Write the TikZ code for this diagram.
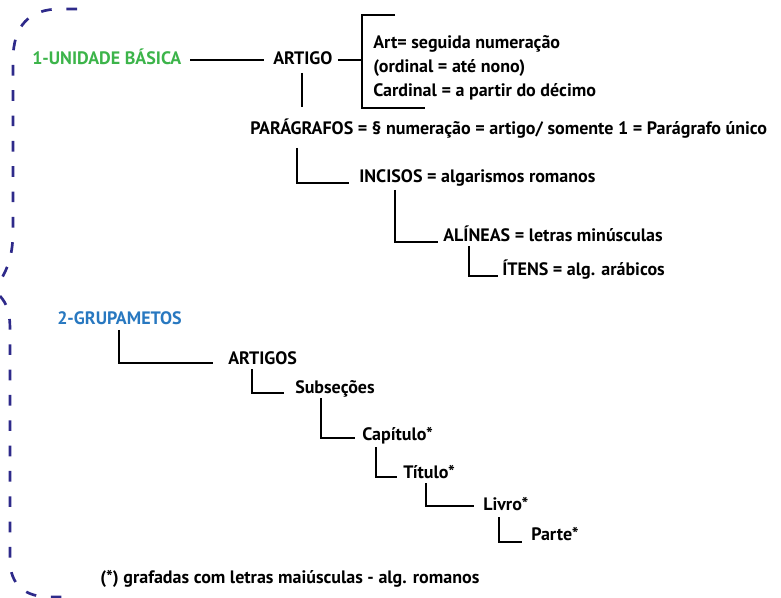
\documentclass[tikz,border=0pt]{standalone}
\usepackage{fontspec}
\setmainfont{PT Sans}
\usetikzlibrary{calc}
\definecolor{verde}{RGB}{60,180,74}
\definecolor{azul}{RGB}{40,120,192}
\definecolor{anil}{RGB}{46,42,138}
\tikzset{
rotulo/.style={anchor=base west, inner sep=0pt, font=\bfseries\fontsize{13.5}{15}\selectfont},
liga/.style={line width=1.8pt},
chave/.style={draw=anil, line width=2pt, dash pattern=on 8pt off 11pt},
}

\begin{document}
\begin{tikzpicture}[x=0.75pt,y=-0.75pt]
\useasboundingbox (0,0) rectangle (781,598);
% chaves tracejadas
\draw[chave] (77,9) -- (60,9) .. controls (30,9) and (13,25) .. (13,60) -- (13,230) .. controls (13,255) and (8,268) .. (0,281);
\draw[chave] (0,296) .. controls (7,304) and (10,312) .. (10,330) -- (10,560) .. controls (10,585) and (25,597) .. (50,597) -- (62,597);

% 1 - unidade basica
\node[rotulo, verde] (ub) at (32,65) {1-UNIDADE BÁSICA};
\node[rotulo] (art) at (273,65) {ARTIGO};
\node[rotulo] (n1) at (373,49) {Art= seguida numeração};
\node[rotulo] (n2) at (373,73) {(ordinal = até nono)};
\node[rotulo] (n3) at (373,97) {Cardinal = a partir do décimo};
\node[rotulo] (par) at (250,135) {PARÁGRAFOS = § numeração = artigo/ somente 1 = Parágrafo único};
\node[rotulo] (inc) at (359,183) {INCISOS = algarismos romanos};
\node[rotulo] (ali) at (443,242) {ALÍNEAS = letras minúsculas};
\node[rotulo] (ite) at (502,276) {ÍTENS = alg. arábicos};

\draw[liga] ($(ub.base east)+(9,-5)$) -- ($(art.base west)+(-9,-5)$);
\draw[liga] ($(art.base east)+(5,-5)$) -- ($(n1.base west)+(-11,11)$);
\draw[liga] ($(n1.base west)+(22,-34)$) -| ($(n3.base west)+(-11,11)$) -- ($(n3.base west)+(52,11)$);
\draw[liga] ($(art.base west)+(29,8)$) -- ($(par.base west)+(52,-28)$);
\draw[liga] ($(par.base west)+(47,13)$) |- ($(inc.base west)+(-10,0)$);
\draw[liga] ($(inc.base west)+(36,7)$) |- ($(ali.base west)+(-5,0)$);
\draw[liga] ($(ali.base west)+(26,4)$) |- ($(ite.base west)+(-4,0)$);

% 2 - grupamentos
\node[rotulo, azul] (gr) at (57,325) {2-GRUPAMETOS};
\node[rotulo] (arts) at (228,364) {ARTIGOS};
\node[rotulo] (sub) at (295,393) {Subseções};
\node[rotulo] (cap) at (362,440) {Capítulo*};
\node[rotulo] (tit) at (403,478) {Título*};
\node[rotulo] (liv) at (483,510) {Livro*};
\node[rotulo] (pte) at (531,540) {Parte*};
\node[rotulo] (obs) at (100,583) {(*) grafadas com letras maiúsculas - alg. romanos};

\draw[liga] ($(gr.base west)+(62,5)$) |- ($(arts.base west)+(-15,-1)$);
\draw[liga] ($(arts.base west)+(24,5)$) |- ($(sub.base west)+(-11,0)$);
\draw[liga] ($(sub.base west)+(26,5)$) |- ($(cap.base west)+(-7,-2)$);
\draw[liga] ($(cap.base west)+(14,7)$) |- ($(tit.base west)+(-6,-1)$);
\draw[liga] ($(tit.base west)+(23,5)$) |- ($(liv.base west)+(-9,-4)$);
\draw[liga] ($(liv.base west)+(16,7)$) |- ($(pte.base west)+(-9,2)$);
\end{tikzpicture}
\end{document}
